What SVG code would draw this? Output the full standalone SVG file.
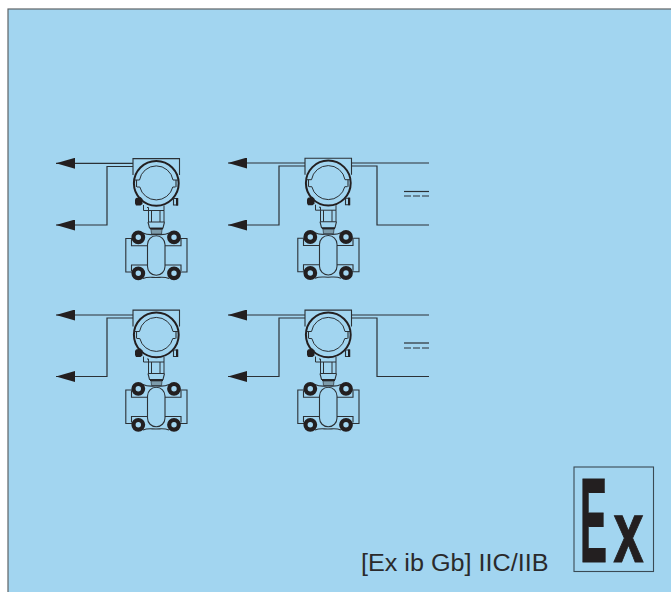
<svg xmlns="http://www.w3.org/2000/svg" width="671" height="592" viewBox="0 0 671 592">
<style>
.l{fill:none;stroke:#2b3136;stroke-width:1.1}
.t{fill:none;stroke:#2b3136;stroke-width:1}
.k{fill:#231f20}
.w{fill:none;stroke:#2b3136;stroke-width:1.2}
.a{fill:#231f20}
.b{fill:#a2d5f0;stroke:#231f20;stroke-width:4.2}
.lbl{font-family:"Liberation Sans",Arial,sans-serif;fill:#2a2a2c}
</style>
<defs>
<g id="tx">
<path class="l" d="M133 175V158.600H179.500V175"/>
<circle cx="156.300" cy="183.300" r="22.400" fill="#a2d5f0" stroke="#231f20" stroke-width="2"/>
<path class="t" d="M139.500 180A17 17 0 0 1 173 180H178M139.500 180H134.500M137 187H139.800A17 17 0 0 0 172.800 187H175.500"/>
<path class="l" d="M136.500 180V187M176 180V187"/>
<path class="k" d="M136 198l4.500-1 2 2v5l-2 1.500h-4.500l-1-2v-4z"/>
<path class="l" d="M173.500 198.500h4v6.500h-4z"/>
<path class="k" d="M176 198h2.200v7.500h-2.200z"/>
<path class="t" d="M143.500 205v5.500h20.500v-5M147 207.500h1.500v3"/>
<path class="t" d="M148.500 210.500V222M151.500 210.500V222M160 210.500V222M164 210.500V222"/>
<path class="l" d="M148 222h16.500M148 222l1.500 6H163l1.500-6"/>
<path class="k" d="M150 228h13v1.500h-13z"/>
<path d="M151 229.500h11l-.5 4.500h-10z" fill="#7d9cab" stroke="#2b3136" stroke-width=".7"/>
<path class="l" d="M143 233c5 2.500 8 1.500 13 1.500s8 1 13-1.500M143 278.500c5-2 8-1 13-1s8-1 13 1"/>
<path class="l" d="M133 238.500H125.800V272H133M180 238.500H187V272H180"/>
<path class="l" d="M131.500 239V245.800H147M165 245.800H181V239M131.500 271V265H147M165 265H181V271"/>
<rect x="147.500" y="235.800" width="17.500" height="39.500" rx="8.700" class="l"/>
<circle class="b" cx="138.300" cy="237.300" r="4.800"/>
<circle class="b" cx="174" cy="237.300" r="4.800"/>
<circle class="b" cx="138.300" cy="273.300" r="4.800"/>
<circle class="b" cx="174" cy="273.300" r="4.800"/>
</g>
<marker id="arr" markerUnits="userSpaceOnUse" markerWidth="19" markerHeight="11" refX="0" refY="5.500" orient="0" viewBox="0 0 19 11"><path class="a" d="M0 5.500L19 0V11z"/></marker>
</defs>
<rect x="8" y="9" width="680" height="600" fill="#a2d5f0" stroke="#5f6467" stroke-width="1.200"/>
<g id="connectors">
<path class="w" marker-start="url(#arr)" d="M56 163.300H133"/>
<path class="w" marker-end="url(#arr)" d="M133 166.500H107V225H56"/>
<path class="w" marker-start="url(#arr)" d="M228 163H305"/>
<path class="w" marker-end="url(#arr)" d="M305 166H279V225H228"/>
<path class="w" d="M351 163H429M351 166H377V225H429"/>
<path class="w" marker-start="url(#arr)" d="M56 315H133"/>
<path class="w" marker-end="url(#arr)" d="M133 318H107V376.500H56"/>
<path class="w" marker-start="url(#arr)" d="M228 315H305"/>
<path class="w" marker-end="url(#arr)" d="M305 318H279V376.500H228"/>
<path class="w" d="M351 315H429M351 318H377V376.500H429"/>
</g>
<g id="transmitter-1"><use href="#tx"/></g>
<g id="transmitter-2"><use href="#tx" transform="translate(172 -.3)"/></g>
<g id="transmitter-3"><use href="#tx" transform="translate(0 151.500)"/></g>
<g id="transmitter-4"><use href="#tx" transform="translate(172 151.500)"/></g>
<g id="dc-1"><path class="w" d="M404 191.500H429"/><path class="w" stroke-dasharray="7 2" d="M404 196H429"/></g>
<g id="dc-2"><path class="w" d="M404 343H429"/><path class="w" stroke-dasharray="7 2" d="M404 348H429"/></g>
<g id="label"><text class="lbl" x="361" y="571" font-size="23.500" textLength="187.500" lengthAdjust="spacingAndGlyphs">[Ex ib Gb] IIC/IIB</text></g>
<g id="ex-mark">
<rect x="574" y="467" width="79.500" height="104.500" fill="none" stroke="#3a4a55" stroke-width="1.100"/>
<text class="lbl" y="561.500" font-weight="700" stroke="#231f20" stroke-width="1.200" style="fill:#231f20"><tspan x="580" font-size="120" textLength="27" lengthAdjust="spacingAndGlyphs">E</tspan><tspan x="613.500" font-size="88" textLength="30" lengthAdjust="spacingAndGlyphs">x</tspan></text>
</g>
</svg>
